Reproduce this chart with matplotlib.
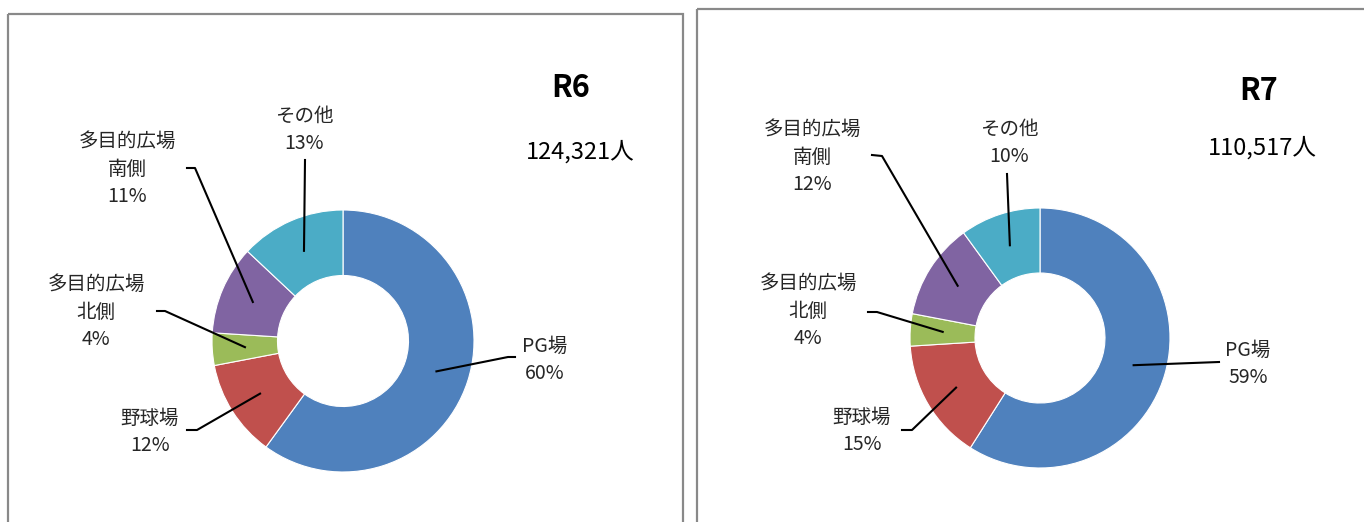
import matplotlib
matplotlib.use('Agg')
import matplotlib.pyplot as plt
import numpy as np
from matplotlib.patches import Rectangle

plt.rcParams['font.family'] = ['Noto Sans CJK JP', 'DejaVu Sans']

# data
categories = ['PG場', '野球場', '多目的広場\n北側', '多目的広場\n南側', 'その他']
r6_share = [60, 12, 4, 11, 13]
r7_share = [59, 15, 4, 12, 10]
years = ['R6', 'R7']
totals = ['124,321人', '110,517人']

colors = ['#4F81BD', '#C0504D', '#9BBB59', '#8064A2', '#4BACC6']

W, H = 1364, 522
fig = plt.figure(figsize=(W / 100, H / 100), dpi=100)

bg = fig.add_axes([0, 0, 1, 1])
bg.set_xlim(0, W)
bg.set_ylim(H, 0)
bg.axis('off')
# chart frames
bg.add_patch(Rectangle((8, 14), 675, 530, fill=False, ec='#898989', lw=1.6))
bg.add_patch(Rectangle((697, 9), 700, 530, fill=False, ec='#898989', lw=1.6))


def donut(cx, cy, R, shares, label_xy, leaders, year, total, year_xy, total_xy):
    ax = fig.add_axes([(cx - R) / W, (H - cy - R) / H, 2 * R / W, 2 * R / H])
    wedges, _ = ax.pie(shares, colors=colors, startangle=90, counterclock=False,
                       radius=1, wedgeprops=dict(width=0.5, edgecolor='white', linewidth=0.8))
    ax.set_xlim(-1, 1)
    ax.set_ylim(-1, 1)
    ax.axis('off')

    def px(p):
        return (p[0] - cx) / R, -(p[1] - cy) / R

    for w, cat, v, lxy, pts in zip(wedges, categories, shares, label_xy, leaders):
        mid = np.deg2rad((w.theta1 + w.theta2) / 2)
        anchor = (0.75 * np.cos(mid), 0.75 * np.sin(mid))
        path = [px(p) for p in pts] + [anchor]
        xs, ys = zip(*path)
        ax.plot(xs, ys, color='black', lw=1.5, clip_on=False)
        tx, ty = px(lxy)
        ax.text(tx, ty, f'{cat}\n{v}%', ha='center', va='center', fontsize=14,
                color='#262626', linespacing=1.39, clip_on=False)

    bg.text(year_xy[0], year_xy[1], year, ha='center', va='center', fontsize=22,
            fontweight='bold', color='black')
    bg.text(total_xy[0], total_xy[1], total, ha='center', va='center', fontsize=17,
            color='black')


donut(343, 341, 131, r6_share,
      [(545, 360), (150, 432), (96, 312), (127, 169), (304, 130)],
      [[(515, 357), (508, 357)],
       [(187, 430), (197, 430)],
       [(157, 311), (165, 311)],
       [(187, 168), (195, 168)],
       [(305, 160)]],
      years[0], totals[0], (571, 88), (580, 152))

donut(1040, 338, 130, r7_share,
      [(1248, 364), (862, 431), (808, 311), (812, 157), (1009, 143)],
      [[(1219, 362)],
       [(902, 430), (912, 430)],
       [(868, 312), (877, 312)],
       [(872, 155), (882, 156)],
       [(1007, 174)]],
      years[1], totals[1], (1259, 91), (1262, 148))

fig.savefig('out.png', dpi=100)
